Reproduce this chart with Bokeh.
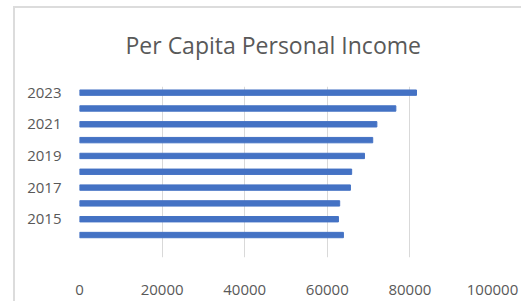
from bokeh.plotting import figure
from bokeh.models import Range1d, FixedTicker
from bokeh.embed import file_html
from bokeh.resources import INLINE

years = [2014, 2015, 2016, 2017, 2018, 2019, 2020, 2021, 2022, 2023]
income = [63900, 62700, 63000, 65600, 65900, 69000, 71000, 72000, 76600, 81600]
year_ticks = [2015, 2017, 2019, 2021, 2023]
x_ticks = [0, 20000, 40000, 60000, 80000, 100000]
title_text = "Per Capita Personal Income"

TXT = "#595959"
GRID = "#d9d9d9"
BAR = "#4472C4"

p = figure(width=521, height=301, output_backend="svg", toolbar_location=None,
           x_range=Range1d(0, 100000), y_range=Range1d(2012.58, 2023.39),
           min_border_left=79, min_border_right=29, min_border_top=82,
           min_border_bottom=44, title=title_text)

p.hbar(y=years, right=income, left=0, height=0.34, color=BAR)

p.title.align = "left"
p.title.offset = 46
p.title.text_font = "Open Sans"
p.title.text_font_size = "23px"
p.title.text_font_style = "normal"
p.title.text_color = TXT
p.title.standoff = 52

p.outline_line_color = None
p.background_fill_color = "white"
p.border_fill_color = None

p.xaxis.ticker = FixedTicker(ticks=x_ticks)
p.yaxis.ticker = FixedTicker(ticks=year_ticks)
for ax in (p.xaxis, p.yaxis):
    ax.axis_line_color = None
    ax.major_tick_line_color = None
    ax.minor_tick_line_color = None
    ax.major_tick_out = 0
    ax.major_tick_in = 0
    ax.major_label_text_font = "Open Sans"
    ax.major_label_text_font_size = "15px"
    ax.major_label_text_color = TXT
p.xaxis.major_label_standoff = 27
p.yaxis.major_label_standoff = 18
p.xaxis.formatter.use_scientific = False

p.xgrid.ticker = FixedTicker(ticks=x_ticks)
p.xgrid.grid_line_color = GRID
p.xgrid.grid_line_width = 1
p.ygrid.grid_line_color = None

p.styles = {
    "background": "linear-gradient(#dcdcdc, #dcdcdc) 13px 6px / 2px calc(100% - 6px) no-repeat, "
                  "linear-gradient(#dcdcdc, #dcdcdc) 13px 6px / calc(100% - 13px) 2px no-repeat, white"
}

open("out.html", "w").write(file_html(p, INLINE))
